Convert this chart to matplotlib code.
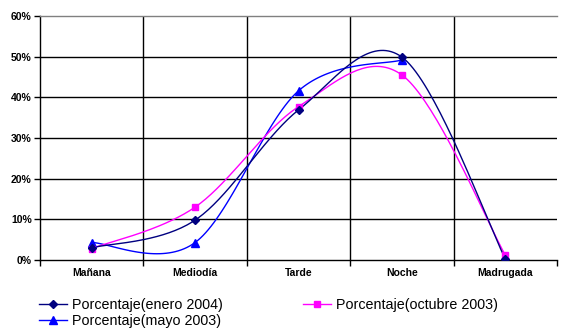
import numpy as np
import matplotlib
matplotlib.use("Agg")
import matplotlib.pyplot as plt
from matplotlib.lines import Line2D

categories = ["Mañana", "Mediodía", "Tarde", "Noche", "Madrugada"]
enero_2004 = [0.030, 0.098, 0.369, 0.499, 0.003]
octubre_2003 = [0.028, 0.130, 0.377, 0.455, 0.012]
mayo_2003 = [0.043, 0.043, 0.416, 0.492, None]
y_ticks = [0.0, 0.1, 0.2, 0.3, 0.4, 0.5, 0.6]
y_ticklabels = ["0%", "10%", "20%", "30%", "40%", "50%", "60%"]
legend_labels = ["Porcentaje(enero 2004)", "Porcentaje(octubre 2003)", "Porcentaje(mayo 2003)"]

plt.rcParams['font.family'] = ['Liberation Sans', 'DejaVu Sans']


def smooth_curve(xs, ys, n=40):
    """Excel-style smoothed line (cubic Bezier / Catmull-Rom) through the points."""
    xs = np.asarray(xs, float)
    ys = np.asarray(ys, float)
    px = np.concatenate([[xs[0]], xs, [xs[-1]]])
    py = np.concatenate([[ys[0]], ys, [ys[-1]]])
    outx, outy = [], []
    t = np.linspace(0, 1, n)
    for i in range(1, len(px) - 2):
        p0x, p1x, p2x, p3x = px[i - 1], px[i], px[i + 1], px[i + 2]
        p0y, p1y, p2y, p3y = py[i - 1], py[i], py[i + 1], py[i + 2]
        c1x = p1x + (p2x - p0x) / 6
        c1y = p1y + (p2y - p0y) / 6
        c2x = p2x - (p3x - p1x) / 6
        c2y = p2y - (p3y - p1y) / 6
        bx = (1 - t) ** 3 * p1x + 3 * (1 - t) ** 2 * t * c1x + 3 * (1 - t) * t ** 2 * c2x + t ** 3 * p2x
        by = (1 - t) ** 3 * p1y + 3 * (1 - t) ** 2 * t * c1y + 3 * (1 - t) * t ** 2 * c2y + t ** 3 * p2y
        outx.extend(bx)
        outy.extend(by)
    return np.array(outx), np.array(outy)


fig = plt.figure(figsize=(5.62, 3.36), dpi=100)
ax = fig.add_axes([40 / 562, 76 / 336, 517 / 562, 244 / 336])

x = np.arange(len(categories))
series = [
    (mayo_2003, "#0000FF", "^", 5.8, legend_labels[2]),
    (octubre_2003, "#FF00FF", "s", 5, legend_labels[1]),
    (enero_2004, "#000080", "D", 4.5, legend_labels[0]),
]
handles = {}
for z, (vals, col, mk, ms, lab) in enumerate(series):
    pts = [(xi, v) for xi, v in zip(x, vals) if v is not None]
    xs = [p[0] for p in pts]
    vs = [p[1] for p in pts]
    sx, sy = smooth_curve(xs, vs)
    ax.plot(sx, sy, color=col, lw=1.0, zorder=3 + z * 0.1)
    ax.plot(xs, vs, linestyle="none", marker=mk, color=col, markersize=ms, zorder=4 + z * 0.1)
    handles[lab] = Line2D([0], [0], color=col, lw=1.0, marker=mk, markersize=ms, label=lab)

ax.set_xlim(-0.5, len(categories) - 0.5)
ax.set_ylim(0, 0.6)

# gridlines
for yv in y_ticks[1:-1]:
    ax.axhline(yv, color="black", lw=1.0, zorder=1)
for xv in np.arange(0.5, len(categories) - 0.5, 1):
    ax.axvline(xv, color="black", lw=1.0, zorder=1)

ax.set_yticks(y_ticks)
ax.set_yticklabels(y_ticklabels, fontsize=7.5, fontweight="bold")
ax.set_xticks(x)
ax.set_xticklabels(categories, fontsize=7.5, fontweight="bold")
ax.tick_params(axis="x", length=0, pad=6)
ax.set_xticks(np.arange(-0.5, len(categories), 1), minor=True)
ax.tick_params(axis="x", which="minor", length=4, width=1, color="black", direction="out")
ax.tick_params(axis="y", length=4, width=1, direction="out", pad=2)

ax.spines["right"].set_visible(False)
ax.spines["top"].set_color("#808080")
ax.spines["top"].set_linewidth(1.0)
ax.spines["left"].set_linewidth(1.0)
ax.spines["bottom"].set_linewidth(1.0)

order = [handles[legend_labels[0]], handles[legend_labels[2]], handles[legend_labels[1]]]
fig.legend(handles=order, labels=[h.get_label() for h in order], ncol=2,
           loc="upper left", bbox_to_anchor=(32 / 562, 1 - 291 / 336),
           frameon=False, fontsize=10.3, handlelength=1.95, handletextpad=0.35,
           columnspacing=5.6, labelspacing=0.12, borderpad=0)

fig.savefig("out.png", dpi=100)
